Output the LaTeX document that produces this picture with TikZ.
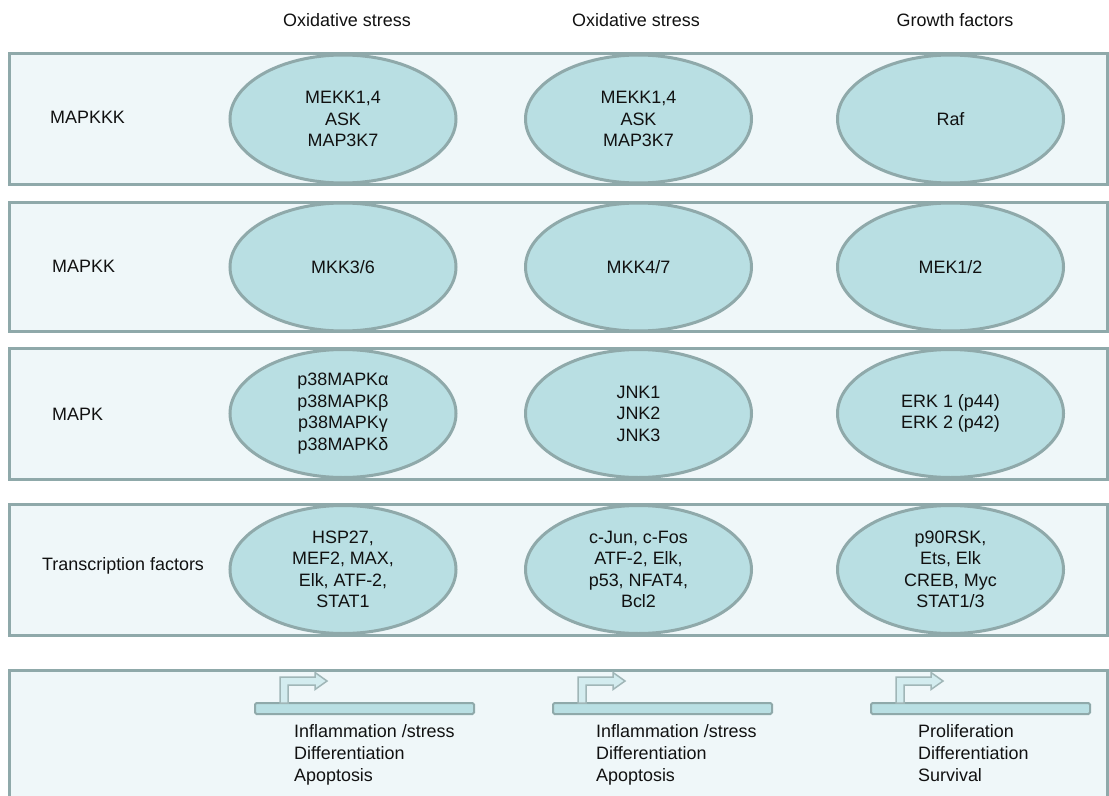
\documentclass[tikz,border=0pt]{standalone}
\usepackage{fontspec}
\setmainfont{Liberation Sans}
\usetikzlibrary{shapes.geometric}
\definecolor{edge}{HTML}{8FA9AA}
\definecolor{panelfill}{HTML}{EFF7F9}
\definecolor{ellfill}{HTML}{B9DFE3}
\definecolor{arrfill}{HTML}{D3ECEF}
\definecolor{ink}{HTML}{111111}
\begin{document}
\begin{tikzpicture}[x=1bp,y=-1bp,
  panel/.style={draw=edge,line width=3bp,fill=panelfill},
  kin/.style={ellipse,draw=edge,line width=3bp,fill=ellfill,minimum width=226bp,minimum height=128bp,inner sep=0pt,align=center,font=\fontsize{18}{21.5}\selectfont,text=ink},
  hdr/.style={font=\fontsize{18}{21.5}\selectfont,text=ink,inner sep=0pt},
  lbl/.style={font=\fontsize{18}{21.5}\selectfont,text=ink,inner sep=0pt,anchor=west},
  outline/.style={font=\fontsize{18}{21.5}\selectfont,text=ink,inner sep=0pt,anchor=base west},
  genebar/.style={draw=edge,line width=2bp,fill=ellfill,rounded corners=1.5bp},
  txarrow/.style={draw=edge!85,line width=1.5bp,fill=arrfill,line join=miter}
]
\clip (0,0) rectangle (1109,796);
\fill[white] (0,0) rectangle (1109,796);

% headers
\node[hdr] (h1) at (347,20) {Oxidative stress};
\node[hdr] (h2) at (636,20) {Oxidative stress};
\node[hdr] (h3) at (955,20) {Growth factors};

% panels
\draw[panel] (9,54) rectangle (1107,184);
\draw[panel] (9,202) rectangle (1107,331);
\draw[panel] (9,348) rectangle (1107,479);
\draw[panel] (9,504) rectangle (1107,635);
\draw[panel] (9,670) rectangle (1107,820);

% row labels
\node[lbl] (l1) at (50,117) {MAPKKK};
\node[lbl] (l2) at (52,266) {MAPKK};
\node[lbl] (l3) at (52,414) {MAPK};
\node[lbl] (l4) at (42,566) {Transcription factors};

% row 1
\node[kin] (a1) at (343,119) {MEKK1,4\\ASK\\MAP3K7};
\node[kin] (a2) at (638.5,119) {MEKK1,4\\ASK\\MAP3K7};
\node[kin] (a3) at (950.5,119) {Raf};
% row 2
\node[kin] (b1) at (343,267) {MKK3/6};
\node[kin] (b2) at (638.5,267) {MKK4/7};
\node[kin] (b3) at (950.5,267) {MEK1/2};
% row 3
\node[kin] (c1) at (343,413.5) {p38MAPKα\\p38MAPKβ\\p38MAPKγ\\p38MAPKδ};
\node[kin] (c2) at (638.5,413.5) {JNK1\\JNK2\\JNK3};
\node[kin] (c3) at (950.5,413.5) {ERK 1 (p44)\\ERK 2 (p42)};
% row 4
\node[kin] (d1) at (343,569.5) {HSP27,\\MEF2, MAX,\\Elk, ATF-2,\\STAT1};
\node[kin] (d2) at (638.5,569.5) {c-Jun, c-Fos\\ATF-2, Elk,\\p53, NFAT4,\\Bcl2};
\node[kin] (d3) at (950.5,569.5) {p90RSK,\\Ets, Elk\\CREB, Myc\\STAT1/3};

% gene bars with transcription arrows
\foreach \ox/\tx/\i in {255/294/1, 553/596/2, 871/918/3}{
  \draw[genebar] (\ox,703) rectangle ++(219,11);
  \draw[txarrow] (\ox+25,703) -- (\ox+25,677) -- (\ox+60,677) -- (\ox+60,672.5)
     -- (\ox+72,681) -- (\ox+60,689.5) -- (\ox+60,685) -- (\ox+33,685) -- (\ox+33,703) -- cycle;
  \coordinate (t\i) at (\tx,737.5);
}
\node[outline] (o11) at (t1) {Inflammation /stress};
\node[outline] (o12) at ([yshift=-22bp]t1) {Differentiation};
\node[outline] (o13) at ([yshift=-44bp]t1) {Apoptosis};
\node[outline] (o21) at (t2) {Inflammation /stress};
\node[outline] (o22) at ([yshift=-22bp]t2) {Differentiation};
\node[outline] (o23) at ([yshift=-44bp]t2) {Apoptosis};
\node[outline] (o31) at (t3) {Proliferation};
\node[outline] (o32) at ([yshift=-22bp]t3) {Differentiation};
\node[outline] (o33) at ([yshift=-44bp]t3) {Survival};
\end{tikzpicture}
\end{document}
